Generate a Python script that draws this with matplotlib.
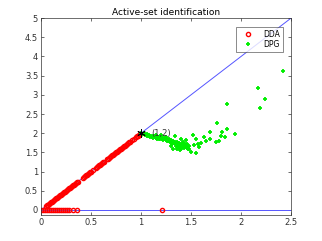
import matplotlib
matplotlib.use('Agg')
import matplotlib.pyplot as plt

# reference lines
line_diag_x = [0.0, 2.5]
line_diag_y = [0.0, 5.0]
line_flat_x = [0.0, 2.5]
line_flat_y = [0.0, 0.0]

# DDA points on the diagonal
dda_diag_x = [0.05, 0.06, 0.07, 0.08, 0.09, 0.10, 0.11, 0.12, 0.13, 0.14,
              0.15, 0.16, 0.17, 0.18, 0.19, 0.20, 0.21, 0.22, 0.23, 0.24,
              0.25, 0.26, 0.27, 0.28, 0.29, 0.30, 0.31, 0.32, 0.33, 0.34,
              0.35, 0.36, 0.37, 0.42, 0.43, 0.44, 0.45, 0.46, 0.47, 0.48,
              0.49, 0.50, 0.52, 0.55, 0.56, 0.57, 0.58, 0.59, 0.60, 0.61,
              0.62, 0.63, 0.66, 0.67, 0.68, 0.69, 0.70, 0.71, 0.72, 0.73,
              0.74, 0.75, 0.76, 0.77, 0.78, 0.79, 0.80, 0.81, 0.82, 0.83,
              0.84, 0.85, 0.86, 0.87, 0.88, 0.89, 0.91, 0.93, 0.95, 0.96,
              0.97, 0.98, 0.99]
dda_diag_y = [0.10, 0.12, 0.14, 0.16, 0.18, 0.20, 0.22, 0.24, 0.26, 0.28,
              0.30, 0.32, 0.34, 0.36, 0.38, 0.40, 0.42, 0.44, 0.46, 0.48,
              0.50, 0.52, 0.54, 0.56, 0.58, 0.60, 0.62, 0.64, 0.66, 0.68,
              0.70, 0.72, 0.74, 0.84, 0.86, 0.88, 0.90, 0.92, 0.94, 0.96,
              0.98, 1.00, 1.04, 1.10, 1.12, 1.14, 1.16, 1.18, 1.20, 1.22,
              1.24, 1.26, 1.32, 1.34, 1.36, 1.38, 1.40, 1.42, 1.44, 1.46,
              1.48, 1.50, 1.52, 1.54, 1.56, 1.58, 1.60, 1.62, 1.64, 1.66,
              1.68, 1.70, 1.72, 1.74, 1.76, 1.78, 1.82, 1.86, 1.90, 1.92,
              1.94, 1.96, 1.98]

# DDA points on the zero line
dda_flat_x = [0.00, 0.02, 0.04, 0.06, 0.08, 0.10, 0.12, 0.14, 0.16, 0.18,
              0.20, 0.22, 0.24, 0.26, 0.28, 0.32, 0.36, 1.21]
dda_flat_y = [0.0, 0.0, 0.0, 0.0, 0.0, 0.0, 0.0, 0.0, 0.0, 0.0,
              0.0, 0.0, 0.0, 0.0, 0.0, 0.0, 0.0, 0.0]

# DPG points
dpg_x = [1.00, 1.01, 1.02, 1.03, 1.04, 1.05, 1.06, 1.07, 1.08, 1.09,
         1.10, 1.11, 1.12, 1.13, 1.14, 1.15, 1.16, 1.17, 1.18, 1.19,
         1.20, 1.21, 1.22, 1.23, 1.24, 1.25, 1.26, 1.27, 1.28, 1.29,
         1.30, 1.31, 1.32, 1.33, 1.34, 1.35, 1.36, 1.37, 1.38, 1.39,
         1.40, 1.41, 1.42, 1.43, 1.44, 1.45, 1.46, 1.47, 1.48,
         1.34, 1.40, 1.32, 1.39, 1.36, 1.30, 1.25, 1.20, 1.15, 1.42,
         1.12, 1.16, 1.22, 1.27, 1.29, 1.33, 1.35, 1.37, 1.38, 1.41,
         1.43, 1.44, 1.31, 1.26, 1.24, 1.18, 1.09, 1.06, 1.36, 1.40,
         2.42, 2.17, 2.24, 2.19, 1.86, 1.86, 1.76, 1.94, 1.81, 1.80,
         1.84, 1.75, 1.78, 1.69, 1.69, 1.63, 1.60, 1.58, 1.55, 1.50,
         1.46, 1.45, 1.52, 1.55, 1.57, 1.65, 1.53, 1.48]
dpg_y = [2.00, 1.99, 1.97, 2.00, 1.96, 1.95, 1.98, 1.93, 1.95, 1.92,
         1.94, 1.90, 1.93, 1.89, 1.92, 1.88, 1.91, 1.87, 1.90, 1.86,
         1.89, 1.85, 1.88, 1.84, 1.87, 1.83, 1.86, 1.80, 1.84, 1.78,
         1.82, 1.76, 1.80, 1.74, 1.78, 1.72, 1.76, 1.69, 1.74, 1.66,
         1.72, 1.64, 1.70, 1.62, 1.68, 1.65, 1.72, 1.60, 1.67,
         1.93, 1.84, 1.58, 1.55, 1.60, 1.68, 1.90, 1.95, 1.95, 1.78,
         1.88, 1.86, 1.82, 1.82, 1.80, 1.76, 1.68, 1.72, 1.63, 1.68,
         1.66, 1.72, 1.72, 1.80, 1.84, 1.84, 1.90, 1.92, 1.66, 1.60,
         3.61, 3.17, 2.89, 2.67, 2.77, 2.10, 2.26, 1.97, 2.02, 1.93,
         1.90, 1.76, 1.81, 2.04, 1.84, 1.91, 1.74, 1.65, 1.48, 1.50,
         1.61, 1.83, 1.96, 1.84, 1.72, 1.80, 1.70, 1.58]

star_x = [1.0]
star_y = [2.0]

fig = plt.figure(figsize=(3.22, 2.41), dpi=100)
ax = fig.add_axes([0.127, 0.108, 0.777, 0.817])

ax.plot(line_diag_x, line_diag_y, '-', color='#5555ff', lw=0.7)
ax.plot(line_flat_x, line_flat_y, '-', color='#5555ff', lw=0.7)
ax.plot(dda_diag_x + dda_flat_x, dda_diag_y + dda_flat_y, 'o', ls='none',
        mfc='none', mec='red', ms=3.0, mew=1.0, label='DDA')
ax.plot(dpg_x, dpg_y, ls='none', marker='+', color='#00ee00',
        ms=3.0, mew=1.3, label='DPG')
ax.plot(star_x, star_y, ls='none', marker=(6, 2, 0), color='black',
        ms=6, mew=0.7)
ax.text(1.1, 1.98, '(1,2)', fontsize=6, color='#333333', va='center')

ax.set_xlim(0, 2.5)
ax.set_ylim(-0.13, 5)
ax.set_xticks([0, 0.5, 1, 1.5, 2, 2.5])
ax.set_xticklabels(['0', '0.5', '1', '1.5', '2', '2.5'])
ax.set_yticks([0, 0.5, 1, 1.5, 2, 2.5, 3, 3.5, 4, 4.5, 5])
ax.set_yticklabels(['0', '0.5', '1', '1.5', '2', '2.5', '3', '3.5', '4',
                    '4.5', '5'])
ax.tick_params(direction='in', labelsize=6, length=2, width=0.5,
               top=True, right=True, colors='#333333', pad=2)
for s in ax.spines.values():
    s.set_linewidth(0.5)
    s.set_color('#333333')
ax.set_title('Active-set identification', fontsize=6.5, pad=2)

leg = ax.legend(loc='upper right', fontsize=5.5, frameon=True, fancybox=False,
                edgecolor='#333333', borderpad=0.35, handlelength=2.5,
                labelspacing=0.2, borderaxespad=0,
                bbox_to_anchor=(0.968, 0.955))
leg.get_frame().set_linewidth(0.5)

plt.savefig('out.png', dpi=100)
